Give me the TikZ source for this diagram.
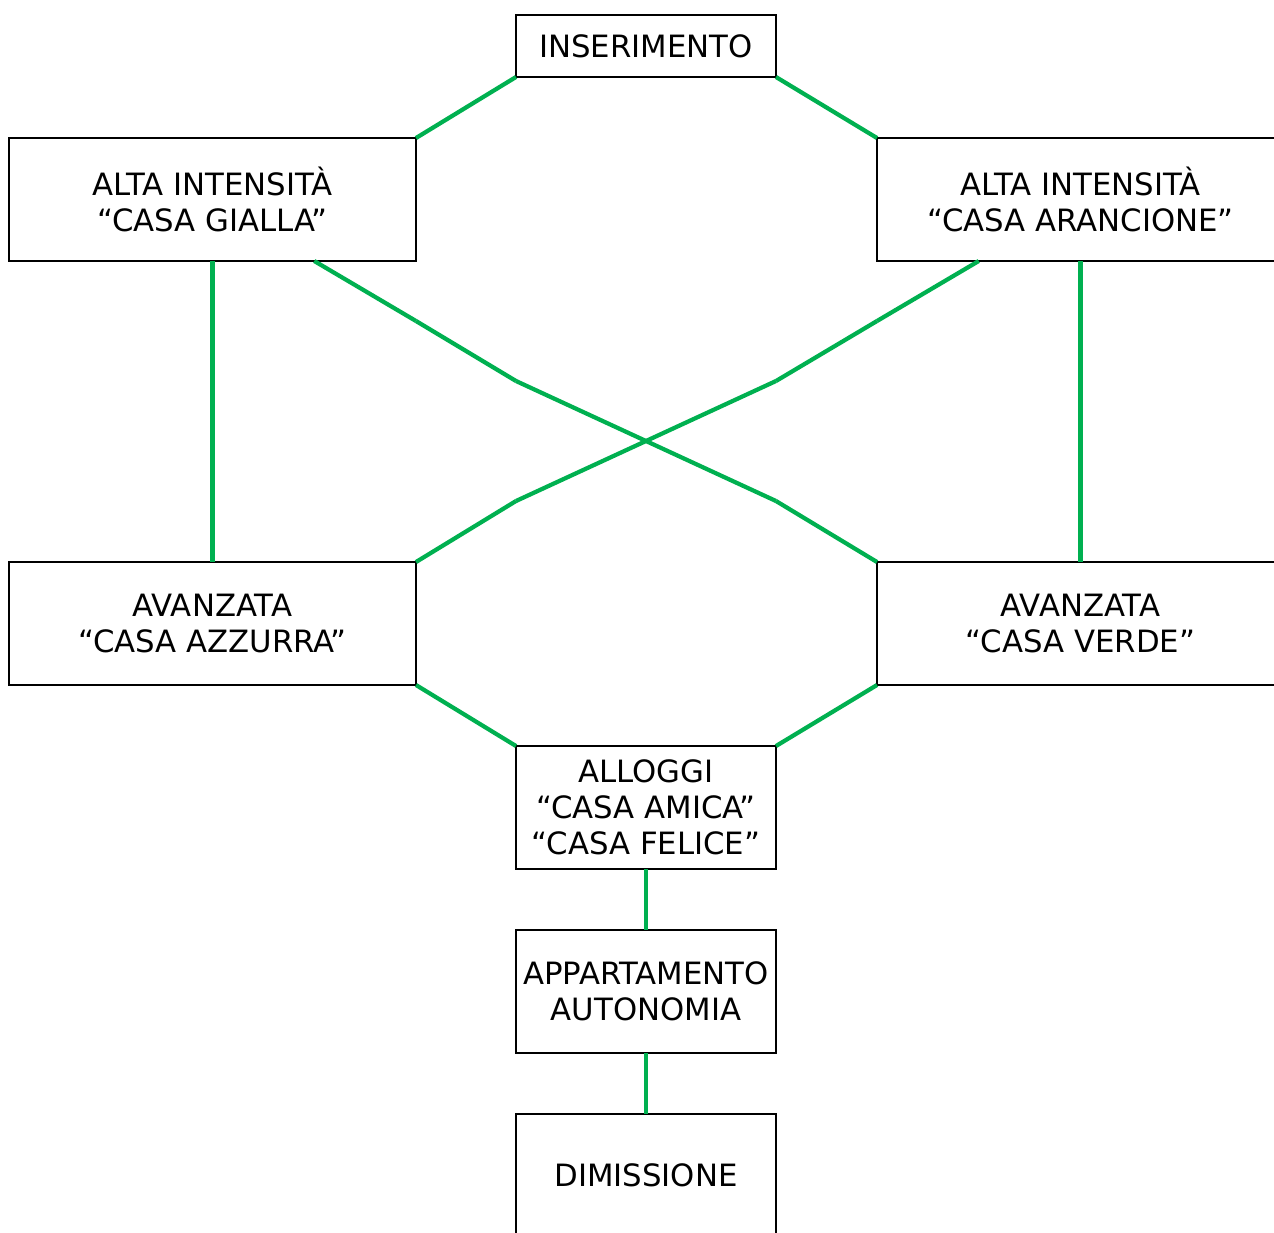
\documentclass[tikz,border=0pt]{standalone}
\usepackage{fontspec}
\setmainfont{DejaVu Sans}
\usepackage{xcolor}
\usepackage{tikz}
\usetikzlibrary{positioning, calc}
\definecolor{linkgreen}{RGB}{0,176,80}

\tikzset{
	box/.style={draw=black, line width=1.4pt, rectangle, inner sep=0pt, outer sep=0pt, align=center, font=\fontsize{17.5pt}{20.5pt}\selectfont},
	smallbox/.style={box, minimum width=5.2cm, minimum height=2.46cm},
	widebox/.style={box, minimum width=8.14cm, minimum height=2.46cm},
	link/.style={linkgreen, line width=2.4pt}
}

\begin{document}
\begin{tikzpicture}[-]
		\useasboundingbox (0,0) rectangle (25.48,-24.64);
		\node[box, minimum width=5.2cm, minimum height=1.24cm] (ins) at (12.92,-0.92) {INSERIMENTO};
		\node[widebox, below left = 1.22cm and 2.0cm of ins] (gialla) {ALTA INTENSITÀ\\“CASA GIALLA”};
		\node[widebox, below right = 1.22cm and 2.02cm of ins] (arancione) {ALTA INTENSITÀ\\“CASA ARANCIONE”};
		\node[widebox, below = 6.02cm of gialla] (azzurra) {AVANZATA\\“CASA AZZURRA”};
		\node[widebox, below = 6.02cm of arancione] (verde) {AVANZATA\\“CASA VERDE”};
		\node[smallbox, below right = 1.22cm and 2.0cm of azzurra] (alloggi) {ALLOGGI\\“CASA AMICA”\\“CASA FELICE”};
		\node[smallbox, below = 1.22cm of alloggi] (appartamento) {APPARTAMENTO\\AUTONOMIA};
		\node[smallbox, below = 1.22cm of appartamento] (dimissione) {DIMISSIONE};
		
		\coordinate (g0) at ($(gialla.south)!0.5!(gialla.south east)$);
		\coordinate (g1) at (8.32,-6.42);
		\coordinate (g2) at (10.32,-7.62);
		\coordinate (cross) at (12.92,-8.82);
		\coordinate (g3) at (15.52,-10.02);
		\coordinate (a0) at ($(arancione.south)!0.5!(arancione.south west)$);
		\coordinate (a1) at (17.54,-6.42);
		\coordinate (a2) at (15.52,-7.62);
		\coordinate (a3) at (10.32,-10.02);
		
		\draw[link] (ins.south west) edge (gialla.north east) ;
		\draw[link] (ins.south east) edge (arancione.north west) ;
		\draw[link] (gialla.south) edge (azzurra.north) ;
		\draw[link] (arancione.south) edge (verde.north) ;
		\foreach \a/\b in {g0/g1, g1/g2, g2/cross, cross/g3, g3/verde.north west, a0/a1, a1/a2, a2/cross, cross/a3, a3/azzurra.north east}
			\draw[link] (\a) -- (\b) ;
		\draw[link] (azzurra.south east) edge (alloggi.north west) ;
		\draw[link] (verde.south west) edge (alloggi.north east) ;
		\draw[link] (alloggi.south) edge (appartamento.north) ;
		\draw[link] (appartamento.south) edge (dimissione.north) ;
	\end{tikzpicture}
\end{document}
